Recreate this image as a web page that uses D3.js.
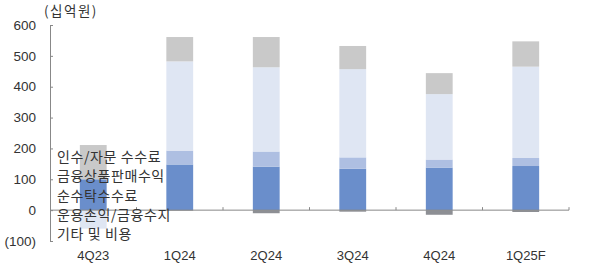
<!DOCTYPE html>
<html>
<head>
<meta charset="utf-8">
<script src="https://cdn.jsdelivr.net/npm/d3@7"></script>
<style>
  body { margin: 0; background: #fff; }
  svg text { fill: #333; }
  .kr { font-family: "Noto Sans CJK KR", sans-serif; }
  .num { font-family: "Liberation Sans", Arial, sans-serif; }
</style>
</head>
<body>
<svg id="chart" width="600" height="269"></svg>
<script>
// 단위: 십억원
var quarters = ["4Q23", "1Q24", "2Q24", "3Q24", "4Q24", "1Q25F"];
var brokerage = [100, 148, 141, 134, 138, 143];   // 순수탁수수료
var productSales = [0, 45, 49, 37, 26, 26];       // 금융상품판매수익
var tradingIncome = [-60, 289, 273, 286, 212, 296]; // 운용손익/금융수지
var ibFees = [111, 79, 98, 75, 68, 82];           // 인수/자문 수수료
var others = [0, -2, -10, -5, -15, -6];           // 기타 및 비용
var yTicks = [600, 500, 400, 300, 200, 100, 0, -100];

var keys = ["brokerage", "productSales", "tradingIncome", "ibFees", "others"];
var colors = {
  brokerage: "#6a8ecb",
  productSales: "#aebfe2",
  tradingIncome: "#dfe6f3",
  ibFees: "#c9c9c9",
  others: "#8d8f94"
};
var legendLabels = ["인수/자문 수수료", "금융상품판매수익", "순수탁수수료", "운용손익/금융수지", "기타 및 비용"];

var rows = quarters.map(function(q, i) {
  return {
    q: q,
    brokerage: brokerage[i],
    productSales: productSales[i],
    tradingIncome: tradingIncome[i],
    ibFees: ibFees[i],
    others: others[i]
  };
});

var svg = d3.select("#chart");

var x = d3.scaleBand().domain(quarters).range([50, 569]);
var y = d3.scaleLinear().domain([-100, 600]).range([241, 25]);
var barW = x.bandwidth() * 0.31;

var series = d3.stack().keys(keys).offset(d3.stackOffsetDiverging)(rows);

// bars
svg.append("g")
  .selectAll("g")
  .data(series)
  .enter()
  .append("g")
  .attr("fill", function(d) { return colors[d.key]; })
  .selectAll("rect")
  .data(function(d) { return d; })
  .enter()
  .append("rect")
  .attr("x", function(d) { return x(d.data.q) + (x.bandwidth() - barW) / 2; })
  .attr("width", barW)
  .attr("y", function(d) { return y(Math.max(d[0], d[1])); })
  .attr("height", function(d) { return Math.abs(y(d[0]) - y(d[1])); });

// y axis
var yAxis = d3.axisRight(y)
  .tickValues(yTicks)
  .tickSize(3)
  .tickFormat("");
var gy = svg.append("g")
  .attr("transform", "translate(50,0)")
  .call(yAxis);
gy.select(".domain").attr("stroke", "#888");
gy.selectAll(".tick line").attr("stroke", "#888");

svg.append("g")
  .selectAll("text")
  .data(yTicks)
  .enter()
  .append("text")
  .attr("class", "num")
  .attr("x", 36)
  .attr("y", function(d) { return y(d); })
  .attr("dy", "0.35em")
  .attr("text-anchor", "end")
  .style("font-size", "13.5px")
  .text(function(d) { return d < 0 ? "(" + (-d) + ")" : d; });

// zero line with category separators
var gx = svg.append("g")
  .attr("transform", "translate(0," + y(0) + ")");
gx.append("line")
  .attr("x1", 50).attr("x2", 569)
  .attr("stroke", "#888");
gx.selectAll(".sep")
  .data(quarters.slice(1).concat(["end"]))
  .enter()
  .append("line")
  .attr("x1", function(d, i) { return x.range()[0] + x.step() * (i + 1); })
  .attr("x2", function(d, i) { return x.range()[0] + x.step() * (i + 1); })
  .attr("y1", 0).attr("y2", -3)
  .attr("stroke", "#888");

// category labels
svg.append("g")
  .selectAll("text")
  .data(quarters)
  .enter()
  .append("text")
  .attr("class", "num")
  .attr("x", function(d) { return x(d) + x.bandwidth() / 2; })
  .attr("y", 255)
  .attr("dy", "0.35em")
  .attr("text-anchor", "middle")
  .style("font-size", "13px")
  .text(function(d) { return d; });

// unit
svg.append("text")
  .attr("class", "kr")
  .attr("x", 44)
  .attr("y", 11)
  .attr("dy", "0.35em")
  .style("font-size", "13.5px")
  .style("letter-spacing", "1.5px")
  .text("(십억원)");

// legend (text only)
svg.append("g")
  .selectAll("text")
  .data(legendLabels)
  .enter()
  .append("text")
  .attr("class", "kr")
  .attr("x", 57)
  .attr("y", function(d, i) { return 157 + i * 19.3; })
  .attr("dy", "0.35em")
  .style("font-size", "14px")
  .style("letter-spacing", "0.6px")
  .text(function(d) { return d; });
</script>
</body>
</html>
